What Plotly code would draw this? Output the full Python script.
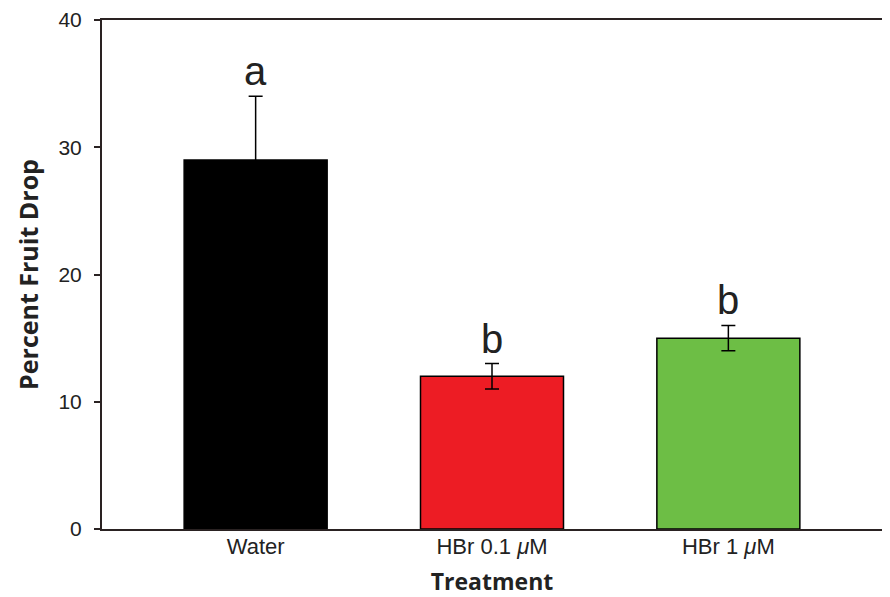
import plotly.graph_objects as go

categories = ["Water", "HBr 0.1 <i>μ</i>M", "HBr 1 <i>μ</i>M"]
values = [29, 12, 15]
errors = [5, 1, 1]
letters = ["a", "b", "b"]
colors = ["#000000", "#ED1C24", "#6DBE45"]
y_ticks = [0, 10, 20, 30, 40]

xpos = list(range(len(categories)))

fig = go.Figure()
fig.add_trace(go.Bar(
    x=xpos, y=values, width=0.605,
    marker=dict(color=colors, line=dict(color="#000000", width=1.5)),
    error_y=dict(type="data", array=errors, visible=True, color="#000000",
                 thickness=1.5, width=7),
    showlegend=False,
))

for x, v, e, t in zip(xpos, values, errors, letters):
    fig.add_annotation(x=x, y=v + e, text=t, showarrow=False, yanchor="bottom",
                       yshift=1, font=dict(family="Liberation Sans, Arial", size=40, color="#222222"))

# the page body adds an 8 px offset; the figure is sized to fill the rest
fig.update_layout(
    width=882, height=589,
    margin=dict(l=94, r=8, t=12, b=68),
    paper_bgcolor="white", plot_bgcolor="white",
    font=dict(family="Liberation Sans, Arial", color="#222222"),
    xaxis=dict(
        range=[-0.65, 2.65], tickmode="array", tickvals=xpos, ticktext=categories,
        showline=True, linecolor="#2a2222", linewidth=2, mirror=True, ticks="",
        showgrid=False, zeroline=False, tickfont=dict(size=22), automargin=False,
        ticklabelstandoff=-3,
        title=dict(text="<b>Treatment</b>", font=dict(family="Open Sans", size=23), standoff=16),
    ),
    yaxis=dict(
        range=[0, 40], tickmode="array", tickvals=y_ticks,
        showline=True, linecolor="#2a2222", linewidth=2, mirror=True,
        ticks="outside", ticklen=6, tickwidth=2, tickcolor="#2a2222",
        showgrid=False, zeroline=False, tickfont=dict(size=21), automargin=False,
        ticklabelstandoff=8,
        title=dict(text="<b>Percent Fruit Drop</b>", font=dict(family="Open Sans", size=25), standoff=13),
    ),
)

fig.write_html("out.html")
